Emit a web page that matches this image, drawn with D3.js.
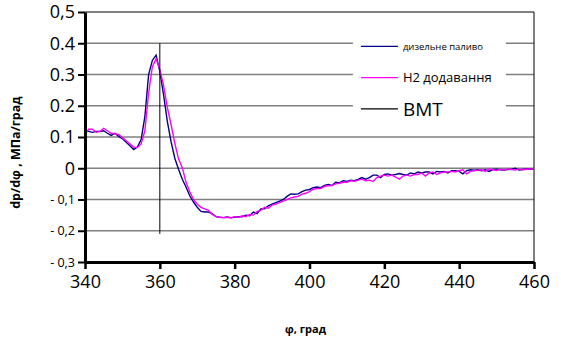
<!DOCTYPE html>
<html>
<head>
<meta charset="utf-8">
<script src="https://cdn.jsdelivr.net/npm/d3@7"></script>
<style>
  body { margin: 0; background: #fff; }
  text { font-family: "Open Sans", "Noto Sans", sans-serif; }
</style>
</head>
<body>
<div id="chart"></div>
<script>
// crank angle, degrees
const angles = d3.range(340, 461);

// dp/dphi, MPa/deg - diesel fuel
const diesel = [
  0.118, 0.118, 0.115, 0.118, 0.118, 0.120, 0.112, 0.105, 0.112, 0.102,
  0.095, 0.083, 0.072, 0.060, 0.068, 0.092, 0.165, 0.300, 0.345, 0.362,
  0.310, 0.235, 0.150, 0.085, 0.032, -0.003, -0.035, -0.060, -0.088, -0.108,
  -0.125, -0.138, -0.140, -0.140, -0.145, -0.155, -0.157, -0.158, -0.156, -0.158,
  -0.157, -0.155, -0.155, -0.150, -0.152, -0.140, -0.145, -0.130, -0.130, -0.120,
  -0.115, -0.110, -0.105, -0.100, -0.090, -0.082, -0.083, -0.082, -0.075, -0.070,
  -0.068, -0.062, -0.060, -0.062, -0.055, -0.052, -0.055, -0.045, -0.047, -0.040,
  -0.042, -0.038, -0.040, -0.036, -0.030, -0.035, -0.030, -0.022, -0.022, -0.030,
  -0.020, -0.018, -0.022, -0.020, -0.017, -0.020, -0.022, -0.015, -0.018, -0.012,
  -0.015, -0.012, -0.012, -0.018, -0.010, -0.012, -0.010, -0.015, -0.008, -0.008,
  -0.010, -0.018, -0.008, -0.005, -0.006, -0.005, -0.008, -0.005, -0.010, -0.004,
  -0.003, -0.005, -0.006, -0.004, -0.003, 0.000, -0.006, -0.004, -0.002, -0.003,
  -0.003
];

// dp/dphi, MPa/deg - with H2 addition
const hydrogen = [
  0.108, 0.125, 0.125, 0.115, 0.118, 0.128, 0.120, 0.112, 0.110, 0.108,
  0.098, 0.088, 0.078, 0.068, 0.066, 0.078, 0.120, 0.240, 0.325, 0.350,
  0.315, 0.265, 0.195, 0.140, 0.080, 0.030, 0.002, -0.045, -0.075, -0.100,
  -0.115, -0.125, -0.130, -0.135, -0.148, -0.154, -0.157, -0.158, -0.157, -0.159,
  -0.155, -0.157, -0.152, -0.155, -0.148, -0.150, -0.138, -0.135, -0.125, -0.128,
  -0.118, -0.115, -0.110, -0.105, -0.100, -0.095, -0.092, -0.090, -0.083, -0.080,
  -0.075, -0.067, -0.065, -0.065, -0.058, -0.056, -0.055, -0.050, -0.048, -0.045,
  -0.045, -0.040, -0.042, -0.038, -0.035, -0.040, -0.038, -0.042, -0.030, -0.025,
  -0.022, -0.025, -0.022, -0.028, -0.035, -0.025, -0.022, -0.025, -0.020, -0.020,
  -0.015, -0.025, -0.015, -0.012, -0.020, -0.015, -0.012, -0.012, -0.010, -0.012,
  -0.008, -0.005, -0.018, -0.010, -0.008, -0.006, -0.005, -0.010, -0.002, -0.005,
  -0.007, -0.003, -0.006, -0.002, -0.004, -0.006, -0.002, -0.005, -0.003, -0.002,
  -0.003
];

// top dead centre marker
const tdcX = [360, 360];
const tdcY = [0.4, -0.21];

const xTicks = [340, 360, 380, 400, 420, 440, 460];
const yTicks = [0.5, 0.4, 0.3, 0.2, 0.1, 0, -0.1, -0.2, -0.3];
const yTickLabels = ["0,5", "0.4", "0.3", "0.2", "0.1", "0", "- 0,1", "- 0,2", "- 0,3"];

const legendNames = ["дизельне паливо", "Н2 додавання", "ВМТ"];
const legendColors = ["#000080", "#ff00ff", "#000000"];

let margin = {top: 12, right: 27, bottom: 83, left: 85}
    , width = 561 - margin.left - margin.right
    , height = 345 - margin.top - margin.bottom;

let svg = d3.select("#chart").append("svg")
    .attr("width", 561)
    .attr("height", 345)
    .append("g")
    .attr("transform", "translate(" + margin.left + "," + margin.top + ")");

var x = d3.scaleLinear().domain([340, 460]).range([0, width]);
var y = d3.scaleLinear().domain([-0.3, 0.5]).range([height, 0]);

// gridlines
svg.append("g")
    .selectAll("line")
    .data(yTicks.filter(d => d < 0.5 && d > -0.3))
    .enter().append("line")
    .attr("x1", 0).attr("x2", width)
    .attr("y1", d => y(d)).attr("y2", d => y(d))
    .style("stroke", "#808080")
    .style("stroke-width", 1.3);

// frame top and right
svg.append("line")
    .attr("x1", 0).attr("x2", width).attr("y1", 0).attr("y2", 0)
    .style("stroke", "#000").style("stroke-width", 1);
svg.append("line")
    .attr("x1", width).attr("x2", width).attr("y1", 0).attr("y2", height)
    .style("stroke", "#000").style("stroke-width", 1);

// curves
let line = d3.line()
    .x((d, i) => x(angles[i]))
    .y(d => y(d));

svg.append("path")
    .datum(diesel)
    .attr("d", line)
    .style("fill", "none")
    .style("stroke", legendColors[0])
    .style("stroke-width", 1.4);

svg.append("path")
    .datum(hydrogen)
    .attr("d", line)
    .style("fill", "none")
    .style("stroke", legendColors[1])
    .style("stroke-width", 1.4);

svg.append("line")
    .attr("x1", x(tdcX[0])).attr("x2", x(tdcX[1]))
    .attr("y1", y(tdcY[0])).attr("y2", y(tdcY[1]))
    .style("stroke", "#000").style("stroke-width", 1);

// legend (white box over gridlines)
let legend = svg.append("g")
    .attr("transform", "translate(" + x(411.6) + "," + y(0.44) + ")");

legend.append("rect")
    .attr("x", 0).attr("y", 0)
    .attr("width", 153).attr("height", 86)
    .style("fill", "#fff");

let legendFont = [9.5, 13, 19];
legendNames.forEach(function (name, i) {
    let ly = y(0.39 - i * 0.1) - y(0.44);
    legend.append("line")
        .attr("x1", 8).attr("x2", 45)
        .attr("y1", ly).attr("y2", ly)
        .style("stroke", legendColors[i])
        .style("stroke-width", 1.4);
    legend.append("text")
        .attr("x", 50)
        .attr("y", ly)
        .attr("dy", "0.35em")
        .style("font-size", legendFont[i] + "px")
        .style("fill", "#000")
        .text(name);
});

// axes
let xAxis = svg.append("g")
    .attr("transform", "translate(0," + height + ")")
    .call(d3.axisBottom(x).tickValues(xTicks).tickSize(7).tickSizeOuter(0).tickPadding(6));
xAxis.select(".domain").style("stroke-width", 3);
xAxis.selectAll(".tick line").style("stroke-width", 2.5);
xAxis.selectAll(".tick text")
    .style("font-size", "18px")
    .style("font-family", "Open Sans");

let yAxis = svg.append("g")
    .call(d3.axisLeft(y).tickValues(yTicks).tickSize(7).tickSizeOuter(0).tickPadding(3)
        .tickFormat((d, i) => yTickLabels[i]));
yAxis.select(".domain").style("stroke-width", 3);
yAxis.selectAll(".tick line").style("stroke-width", 2);
yAxis.selectAll(".tick text")
    .style("font-size", d => d < 0 ? "12.5px" : "18px")
    .style("font-family", "Open Sans");

// axis titles
svg.append("text")
    .attr("transform", "rotate(-90)")
    .attr("x", -(y(0.05)))
    .attr("y", -65)
    .attr("text-anchor", "middle")
    .style("font-size", "12.5px")
    .style("font-weight", "bold")
    .text("dp/dφ , МПа/град");

svg.append("text")
    .attr("x", x(400) - 4)
    .attr("y", height + 71)
    .attr("text-anchor", "middle")
    .style("font-size", "11px")
    .style("font-weight", "bold")
    .text("φ, град");
</script>
</body>
</html>
